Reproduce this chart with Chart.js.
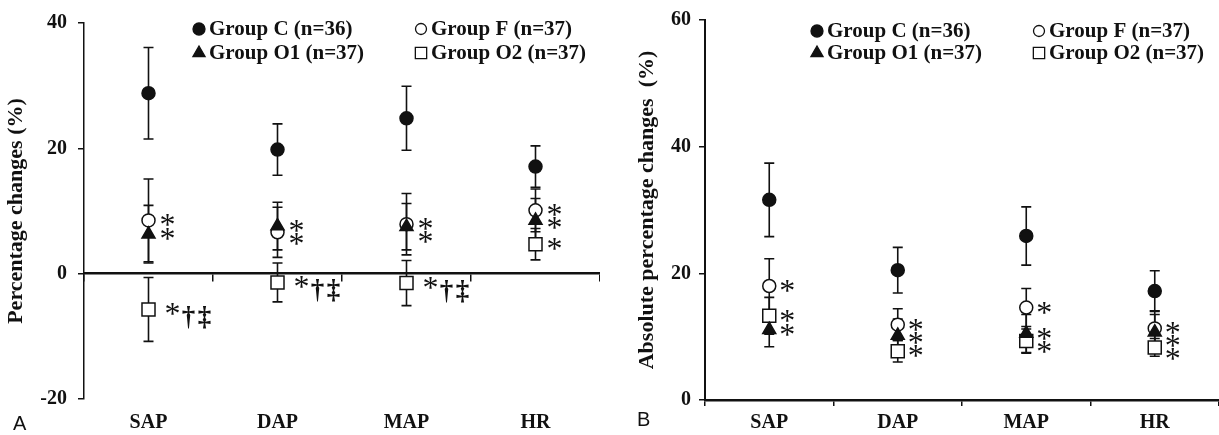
<!DOCTYPE html>
<html>
<head>
<meta charset="utf-8">
<script src="https://cdn.jsdelivr.net/npm/chart.js@4.4.1/dist/chart.umd.min.js"></script>
<style>
  html, body { margin: 0; padding: 0; background: #fff; }
  #wrap { position: relative; width: 1219px; height: 435px; }
  canvas { position: absolute; top: 0; }
  #graficaA { left: 0; }
  #graficaB { left: 600px; }
</style>
</head>
<body>
<div id="wrap">
  <canvas id="graficaA" width="600" height="435"></canvas>
  <canvas id="graficaB" width="619" height="435"></canvas>
</div>
<script>
// categorias y grupos
const categorias = ['SAP', 'DAP', 'MAP', 'HR'];
const grupos = ['Group C (n=36)', 'Group F (n=37)', 'Group O1 (n=37)', 'Group O2 (n=37)'];

// Panel A: cambio porcentual (media y DE)
const pctC = [28.8, 19.8, 24.8, 17.1];
const pctCde = [7.3, 4.1, 5.1, 3.3];
const pctF = [8.5, 6.6, 7.9, 10.1];
const pctFde = [6.6, 4.0, 4.9, 3.4];
const pctO1 = [6.3, 7.6, 7.5, 8.5];
const pctO1de = [4.6, 3.8, 3.7, 3.5];
const pctO2 = [-5.7, -1.4, -1.5, 4.7];
const pctO2de = [5.1, 3.1, 3.6, 2.5];
const ticksA = [-20, 0, 20, 40];

// Panel B: cambio porcentual absoluto (media y DE)
const absC = [31.6, 20.5, 25.9, 17.2];
const absCde = [5.8, 3.6, 4.6, 3.2];
const absF = [18.0, 11.9, 14.6, 11.3];
const absFde = [4.3, 2.5, 3.0, 2.8];
const absO1 = [11.1, 10.2, 10.5, 10.7];
const absO1de = [2.7, 2.6, 3.0, 2.8];
const absO2 = [13.3, 7.7, 9.3, 8.3];
const absO2de = [2.9, 1.7, 1.9, 1.4];
const ticksB = [0, 20, 40, 60];

// marcas de significacion
const marcasFA = ['*', '*', '*', '*'];
const marcasO1A = ['*', '*', '*', '*'];
const marcasO2A = ['*†‡', '*†‡', '*†‡', '*'];
const marcasFB = ['*', '*', '*', '*'];
const marcasO1B = ['*', '*', '*', '*'];
const marcasO2B = ['*', '*', '*', '*'];

const NEGRO = '#111';
const SERIF = '"Liberation Serif", "Times New Roman", serif';

// estilo de cada grupo: C, F, O1, O2
const estilos = [
  { pointStyle: 'circle', radius: 6.5, fill: NEGRO, legendRadius: 6, order: 0 },
  { pointStyle: 'circle', radius: 6.5, fill: '#fff', legendRadius: 5.5, order: 2 },
  { pointStyle: 'triangle', radius: 7.5, fill: NEGRO, legendRadius: 7, order: 1 },
  { pointStyle: 'rect', radius: 9.2, fill: '#fff', legendRadius: 8, order: 3 }
];

function crearDatasets(medias, desvios, marcas) {
  return medias.map((m, i) => ({
    label: grupos[i],
    data: m,
    de: desvios[i],
    marcas: marcas[i],
    xAxisID: 'x',
    showLine: false,
    order: estilos[i].order,
    pointStyle: estilos[i].pointStyle,
    pointRadius: estilos[i].radius,
    pointHoverRadius: estilos[i].radius,
    pointBackgroundColor: estilos[i].fill,
    pointBorderColor: NEGRO,
    pointBorderWidth: 1.5,
    legendRadius: estilos[i].legendRadius
  }));
}

// barras de error (media +/- DE) con la escala del eje y
const barrasError = {
  id: 'barrasError',
  beforeDatasetsDraw(chart) {
    const { ctx } = chart;
    const y = chart.scales.y;
    ctx.save();
    ctx.strokeStyle = NEGRO;
    ctx.lineWidth = 1.6;
    chart.data.datasets.forEach((ds, di) => {
      chart.getDatasetMeta(di).data.forEach((pt, i) => {
        const yTop = y.getPixelForValue(ds.data[i] + ds.de[i]);
        const yBot = y.getPixelForValue(ds.data[i] - ds.de[i]);
        ctx.beginPath();
        ctx.moveTo(pt.x, yTop); ctx.lineTo(pt.x, yBot);
        ctx.moveTo(pt.x - 5, yTop); ctx.lineTo(pt.x + 5, yTop);
        ctx.moveTo(pt.x - 5, yBot); ctx.lineTo(pt.x + 5, yBot);
        ctx.stroke();
      });
    });
    ctx.restore();
  }
};

function dibujarMarca(ctx, x, y, txt) {
  ctx.save();
  ctx.fillStyle = NEGRO;
  ctx.textAlign = 'center';
  ctx.textBaseline = 'alphabetic';
  ctx.font = '32px ' + SERIF;
  const x0 = txt.length > 1 ? x + 5 : x;
  const m = ctx.measureText('*');
  ctx.fillText('*', x0, y + (m.actualBoundingBoxAscent - m.actualBoundingBoxDescent) / 2);
  if (txt.length > 1) {
    ctx.font = 'bold 27px ' + SERIF;
    [...txt.slice(1)].forEach((ch, k) => {
      const mm = ctx.measureText(ch);
      ctx.fillText(ch, x0 + 16 + k * 16, y - 3 + mm.actualBoundingBoxAscent);
    });
  }
  ctx.restore();
}

// asteriscos al lado de cada grupo
const marcasSignif = {
  id: 'marcasSignif',
  afterDatasetsDraw(chart, args, opts) {
    categorias.forEach((c, i) => {
      const items = [];
      chart.data.datasets.forEach((ds, di) => {
        const txt = ds.marcas ? ds.marcas[i] : '';
        if (!txt) return;
        const pt = chart.getDatasetMeta(di).data[i];
        items.push({ x: pt.x, y: pt.y, txt });
      });
      items.sort((a, b) => a.y - b.y);
      for (let k = 1; k < items.length; k++) {
        if (items[k].y - items[k - 1].y < 13) items[k].y = items[k - 1].y + 13;
      }
      items.forEach(it => dibujarMarca(chart.ctx, it.x + opts.dx, it.y, it.txt));
    });
  }
};

// leyenda en rejilla 2x2 dentro del area
const leyendaGrid = {
  id: 'leyendaGrid',
  afterDraw(chart, args, opts) {
    const { ctx } = chart;
    ctx.save();
    ctx.font = 'bold 21px ' + SERIF;
    ctx.textBaseline = 'middle';
    ctx.textAlign = 'left';
    chart.data.datasets.forEach((ds, di) => {
      const x = opts.x0 + (di % 2) * opts.dxCol;
      const y = opts.y0 + Math.floor(di / 2) * opts.dyRow;
      ctx.fillStyle = ds.pointBackgroundColor;
      ctx.strokeStyle = NEGRO;
      ctx.lineWidth = 1.3;
      Chart.helpers.drawPoint(ctx, { pointStyle: ds.pointStyle, radius: ds.legendRadius, borderWidth: 1.3, rotation: 0 }, x, y);
      ctx.fillStyle = NEGRO;
      ctx.fillText(ds.label, x + opts.dxText, y + 1);
    });
    ctx.restore();
  }
};

const letraPanel = {
  id: 'letraPanel',
  afterDraw(chart, args, opts) {
    const { ctx } = chart;
    ctx.save();
    ctx.font = '20px "Liberation Sans", Arial, sans-serif';
    ctx.fillStyle = NEGRO;
    ctx.textAlign = 'left';
    ctx.textBaseline = 'middle';
    ctx.fillText(opts.text, opts.x, opts.y);
    ctx.restore();
  }
};

Chart.defaults.font.family = SERIF;
Chart.defaults.color = NEGRO;
Chart.defaults.animation = false;

const fuenteTicks = { family: SERIF, size: 20, weight: 'bold' };
const fuenteTitulo = { family: SERIF, size: 22, weight: 'bold' };

// 📈 Panel A
new Chart(document.getElementById('graficaA'), {
  type: 'line',
  data: {
    labels: categorias,
    datasets: crearDatasets([pctC, pctF, pctO1, pctO2], [pctCde, pctFde, pctO1de, pctO2de], [null, marcasFA, marcasO1A, marcasO2A])
  },
  options: {
    responsive: false,
    layout: { autoPadding: false, padding: { top: 18, right: 0, bottom: 0, left: 0 } },
    plugins: {
      legend: { display: false },
      tooltip: { enabled: false },
      leyendaGrid: { x0: 199, y0: 29, dxCol: 222, dyRow: 24, dxText: 10 },
      marcasSignif: { dx: 19 },
      letraPanel: { text: 'A', x: 13, y: 424 }
    },
    scales: {
      x: {
        type: 'category', axis: 'x', labels: categorias, offset: true, position: 'bottom',
        grid: { display: false, drawTicks: false }, border: { display: false },
        ticks: { font: fuenteTicks, color: NEGRO, padding: 12 },
        afterFit: s => { s.height = 36; }
      },
      xCero: {
        type: 'category', axis: 'x', labels: categorias, offset: true, position: { y: 0 },
        grid: { drawOnChartArea: false, drawTicks: true, tickLength: 7, color: NEGRO, lineWidth: 1.5, offset: true },
        border: { display: true, color: NEGRO, width: 2.5 },
        ticks: { display: false }
      },
      y: {
        min: -20, max: 40,
        afterBuildTicks: s => { s.ticks = ticksA.map(v => ({ value: v })); },
        ticks: { font: fuenteTicks, color: NEGRO, padding: 11 },
        grid: { drawOnChartArea: false, drawTicks: true, tickLength: 6, color: NEGRO, lineWidth: 1.5 },
        border: { display: true, color: NEGRO, width: 1.5 },
        title: { display: true, text: 'Percentage changes (%)', font: fuenteTitulo, color: NEGRO, padding: { top: 3, bottom: 12 } },
        afterFit: s => { s.width = 84; }
      }
    }
  },
  plugins: [barrasError, marcasSignif, leyendaGrid, letraPanel]
});

// 📈 Panel B
new Chart(document.getElementById('graficaB'), {
  type: 'line',
  data: {
    labels: categorias,
    datasets: crearDatasets([absC, absF, absO1, absO2], [absCde, absFde, absO1de, absO2de], [null, marcasFB, marcasO1B, marcasO2B])
  },
  options: {
    responsive: false,
    layout: { autoPadding: false, padding: { top: 18, right: 0, bottom: 0, left: 0 } },
    plugins: {
      legend: { display: false },
      tooltip: { enabled: false },
      leyendaGrid: { x0: 217, y0: 31, dxCol: 222, dyRow: 22, dxText: 10 },
      marcasSignif: { dx: 18 },
      letraPanel: { text: 'B', x: 37, y: 420 }
    },
    scales: {
      x: {
        type: 'category', axis: 'x', labels: categorias, offset: true, position: 'bottom',
        grid: { drawOnChartArea: false, drawTicks: true, tickLength: 6, color: NEGRO, lineWidth: 1.5, offset: true },
        border: { display: true, color: NEGRO, width: 2.5 },
        ticks: { font: fuenteTicks, color: NEGRO, padding: 5 },
        afterFit: s => { s.height = 35; }
      },
      y: {
        min: 0, max: 60,
        afterBuildTicks: s => { s.ticks = ticksB.map(v => ({ value: v })); },
        ticks: { font: fuenteTicks, color: NEGRO, padding: 8 },
        grid: { drawOnChartArea: false, drawTicks: true, tickLength: 6, color: NEGRO, lineWidth: 1.5 },
        border: { display: true, color: NEGRO, width: 2 },
        title: { display: true, text: 'Absolute percentage changes  (%)', font: fuenteTitulo, color: NEGRO, padding: { top: 34, bottom: 8 } },
        afterFit: s => { s.width = 105; }
      }
    }
  },
  plugins: [barrasError, marcasSignif, leyendaGrid, letraPanel]
});
</script>
</body>
</html>
